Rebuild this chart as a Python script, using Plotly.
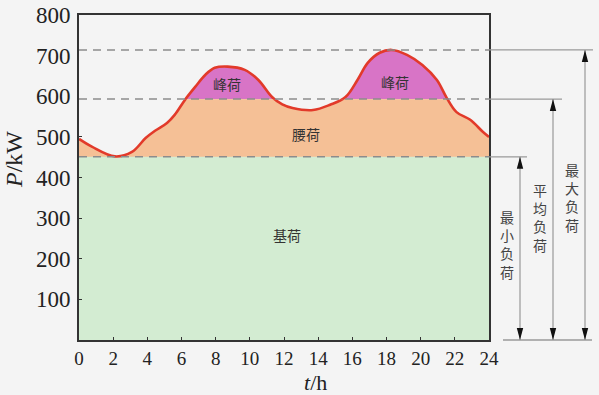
import plotly.graph_objects as go

# ---- data ----
hours = [0.0, 0.75, 2.1, 3.1, 3.9, 4.45, 5.15, 5.6, 6.2, 6.8, 7.4, 7.95, 8.7, 9.7,
         10.5, 11.3, 11.9, 12.5, 13.7, 14.7, 15.6, 16.3, 16.9, 17.6, 18.3, 19.2,
         20.1, 20.95, 21.5, 22.1, 22.9, 23.65, 24.0]
load_kw = [495, 476, 452, 463, 497, 515, 534, 554, 591, 623, 653, 670, 673, 665,
           640, 598, 580, 571, 566, 579, 598, 640, 682, 707, 714, 702,
           677, 640, 598, 561, 542, 512, 500]

min_load = 451    # 最小负荷
avg_load = 593    # 平均负荷
max_load = 714    # 最大负荷

x_ticks = list(range(0, 25, 2))
y_ticks = [100, 200, 300, 400, 500, 600, 700, 800]

region_labels = ["峰荷", "峰荷", "腰荷", "基荷"]
region_x = [8.65, 18.5, 13.3, 12.2]
region_y = [630, 635, 508, 258]

side_labels = ["最小负荷", "平均负荷", "最大负荷"]
side_levels = [min_load, avg_load, max_load]

# ---- style ----
BG = "#f4f4f4"
GREEN = "#d3ecd2"
ORANGE = "#f5c096"
MAGENTA = "#d874c6"
RED = "#e23a2a"
DASH = "#8c8c8c"
AXIS = "#333333"
CJK = "Noto Sans CJK SC"
SERIF = "Liberation Serif"

W, H = 599, 395
ML, MR, MT, MB = 79, 110, 15, 55
PW = W - ML - MR
PH = H - MT - MB
Y_MAX = 800


def px_x(p):
    return (p - ML) / PW


def px_y(p):
    return (H - MB - p) / PH


fig = go.Figure()

# 腰荷 (orange): the whole area under the load curve
fig.add_trace(go.Scatter(x=hours, y=load_kw, mode="lines", line=dict(width=0, shape="spline"),
                         fill="tozeroy", fillcolor=ORANGE, hoverinfo="skip", showlegend=False))
# 基荷 (green): up to the minimum load
fig.add_trace(go.Scatter(x=[0, 24], y=[min_load, min_load], mode="lines", line=dict(width=0),
                         fill="tozeroy", fillcolor=GREEN, hoverinfo="skip", showlegend=False))
# red load curve (full)
fig.add_trace(go.Scatter(x=hours, y=load_kw, mode="lines",
                         line=dict(width=2.6, color=RED, shape="spline"), showlegend=False))
# 峰荷 (magenta): area under curve in a subplot whose domain starts at the average load
fig.add_trace(go.Scatter(x=hours, y=load_kw, mode="lines", line=dict(width=0, shape="spline"),
                         fill="tozeroy", fillcolor=MAGENTA, xaxis="x", yaxis="y2",
                         hoverinfo="skip", showlegend=False))
# red load curve again on top of the magenta part
fig.add_trace(go.Scatter(x=hours, y=load_kw, mode="lines",
                         line=dict(width=2.6, color=RED, shape="spline"),
                         xaxis="x", yaxis="y2", showlegend=False))

shapes = []
# horizontal reference lines: dashed inside, solid grey outside
ext_px = {min_load: 527, avg_load: 562, max_load: 593}
for lvl in side_levels:
    yp = lvl / Y_MAX
    shapes.append(dict(type="line", xref="paper", yref="paper", x0=0, x1=1, y0=yp, y1=yp,
                       line=dict(color=DASH, width=1.5, dash="8px,6px"), layer="above"))
    shapes.append(dict(type="line", xref="paper", yref="paper", x0=1, x1=px_x(ext_px[lvl]), y0=yp, y1=yp,
                       line=dict(color="#9a9a9a", width=1.2), layer="above"))
# bottom baseline on the right
shapes.append(dict(type="line", xref="paper", yref="paper", x0=px_x(503), x1=px_x(592), y0=0, y1=0,
                   line=dict(color="#9a9a9a", width=1.5), layer="above"))

# vertical double arrows
arrow_px = [520, 553, 585]
hw = 3.2 / PW
hl = 12 / PH
for xp, lvl in zip(arrow_px, side_levels):
    xx = px_x(xp)
    yt = lvl / Y_MAX
    shapes.append(dict(type="line", xref="paper", yref="paper", x0=xx, x1=xx, y0=0, y1=yt,
                       line=dict(color="#a0a0a0", width=1.3), layer="above"))
    shapes.append(dict(type="path", xref="paper", yref="paper",
                       path=f"M {xx},{yt} L {xx - hw},{yt - hl} L {xx + hw},{yt - hl} Z",
                       fillcolor="#111111", line=dict(width=0), layer="above"))
    shapes.append(dict(type="path", xref="paper", yref="paper",
                       path=f"M {xx},0 L {xx - hw},{hl} L {xx + hw},{hl} Z",
                       fillcolor="#111111", line=dict(width=0), layer="above"))

annotations = []
for t, xv, yv in zip(region_labels, region_x, region_y):
    annotations.append(dict(x=xv, y=yv, xref="x", yref="y", text=t, showarrow=False,
                            xanchor="center", yanchor="middle",
                            font=dict(family=CJK, size=14, color="#333333")))

side_x_px = [507, 540, 572]
side_y_px = [244, 217, 197]
for t, xp, yp in zip(side_labels, side_x_px, side_y_px):
    annotations.append(dict(x=px_x(xp), y=px_y(yp), xref="paper", yref="paper",
                            text="<br>".join(list(t)), showarrow=False,
                            xanchor="center", yanchor="middle",
                            font=dict(family=CJK, size=14, color="#444444")))

# axis titles
annotations.append(dict(x=px_x(14), y=px_y(160), xref="paper", yref="paper", text="<i>P</i>/kW",
                        textangle=-90, showarrow=False, xanchor="center", yanchor="middle",
                        font=dict(family=SERIF, size=24, color="#222")))
annotations.append(dict(x=px_x(315), y=px_y(382), xref="paper", yref="paper", text="<i>t</i>/h",
                        showarrow=False, xanchor="center", yanchor="middle",
                        font=dict(family=SERIF, size=22, color="#222")))

fig.update_layout(
    width=W, height=H,
    margin=dict(l=ML, r=MR, t=MT, b=MB, autoexpand=False),
    paper_bgcolor=BG, plot_bgcolor=BG,
    showlegend=False,
    shapes=shapes,
    annotations=annotations,
    xaxis=dict(range=[0, 24], tickvals=x_ticks, ticktext=[str(v) for v in x_ticks],
               anchor="y",
               showgrid=False, zeroline=False, showline=True, linecolor=AXIS, linewidth=2,
               mirror=True, ticks="inside", ticklen=3, tickcolor=AXIS,
               tickfont=dict(family=SERIF, size=19, color="#222")),
    yaxis=dict(range=[0, Y_MAX], domain=[0, 1], tickvals=y_ticks, ticktext=[str(v) for v in y_ticks],
               anchor="x",
               showgrid=False, zeroline=False, showline=True, linecolor=AXIS, linewidth=2,
               mirror=True, ticks="inside", ticklen=3, tickcolor=AXIS, ticklabelstandoff=2,
               tickfont=dict(family=SERIF, size=23, color="#222")),
    yaxis2=dict(range=[avg_load, Y_MAX], domain=[avg_load / Y_MAX, 1],
                visible=False, anchor="x", showline=False, showgrid=False, zeroline=False),
)

fig.write_html(
    "out.html",
    config={"displayModeBar": False},
    post_script="document.body.style.margin='0';document.body.style.background='%s';" % BG,
)
